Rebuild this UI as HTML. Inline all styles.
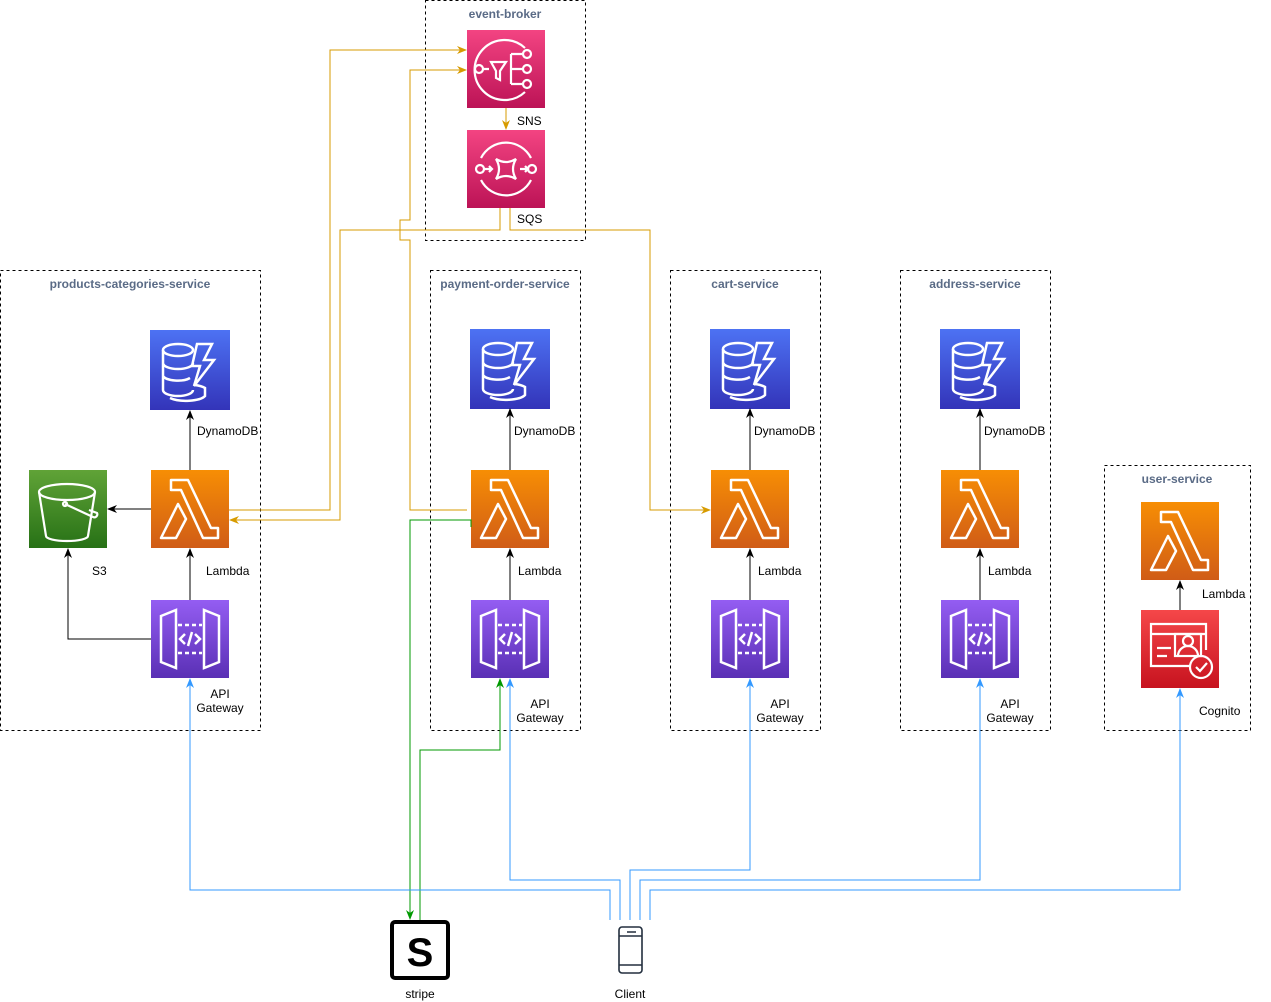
<!DOCTYPE html>
<html><head><meta charset="utf-8"><style>
html,body{margin:0;padding:0;background:#fff;}
svg{display:block;font-family:"Liberation Sans",Arial,sans-serif;}
.t{font-size:12px;fill:#000;}
.h{font-size:12px;font-weight:bold;fill:#5a6b86;}
</style></head><body>
<svg width="1271" height="1002" viewBox="0 0 1271 1002" xmlns="http://www.w3.org/2000/svg">
<defs>
<linearGradient id="gd" x1="0" y1="0" x2="0" y2="1"><stop offset="0" stop-color="#4d72f3"/><stop offset="1" stop-color="#3334b9"/></linearGradient>
<linearGradient id="gl" x1="0" y1="0" x2="0" y2="1"><stop offset="0" stop-color="#f78e04"/><stop offset="1" stop-color="#d05c17"/></linearGradient>
<linearGradient id="ga" x1="0" y1="0" x2="0" y2="1"><stop offset="0" stop-color="#945df2"/><stop offset="1" stop-color="#5a30b5"/></linearGradient>
<linearGradient id="gs" x1="0" y1="0" x2="0" y2="1"><stop offset="0" stop-color="#60a337"/><stop offset="1" stop-color="#277116"/></linearGradient>
<linearGradient id="gp" x1="0" y1="0" x2="0" y2="1"><stop offset="0" stop-color="#f34482"/><stop offset="1" stop-color="#bc1356"/></linearGradient>
<linearGradient id="gc" x1="0" y1="0" x2="0" y2="1"><stop offset="0" stop-color="#f54749"/><stop offset="1" stop-color="#c7131f"/></linearGradient>
<g id="lam"><rect width="78" height="78" fill="url(#gl)"/>
<path d="M20 10 H37 L60 58 H67 V68 H52 L30 20 H20 Z M10 68 L27 34 L35 49 L25 68 Z" fill="none" stroke="#fff" stroke-width="2.5" stroke-linejoin="round"/></g>
<g id="dyn"><rect width="80" height="80" fill="url(#gd)"/>
<g fill="none" stroke="#fff" stroke-width="2.5"><ellipse cx="28" cy="20" rx="15" ry="6"/><path d="M13 20 V60 A15 6 0 0 0 43 60 M13 33 A15 6 0 0 0 43 33 M13 46 A15 6 0 0 0 40 48"/><path d="M47 14 H62 L54 30 H64 L44 56 L50 36 H42 Z"/><path d="M45 55 A20 7 0 0 1 55 58 V66 A20 7 0 0 1 20 68"/></g></g>
<g id="api"><rect width="78" height="78" fill="url(#ga)"/>
<g fill="none" stroke="#fff" stroke-width="2.5"><path d="M10 16 L25 10 V68 L10 62 Z M68 16 L53 10 V68 L68 62 Z"/><path d="M27 25 H51 M27 53 H51" stroke-dasharray="4 3"/><path d="M34 34 L29 39 L34 44 M44 34 L49 39 L44 44 M41 32 L37 46"/></g></g>
<g id="sns"><rect width="78" height="78" fill="url(#gp)"/>
<g fill="none" stroke="#fff" stroke-width="2.2"><path d="M58 18 A30 30 0 1 0 58 62"/><circle cx="12" cy="39" r="4"/><path d="M16 39 H22 M44 39 H56"/><path d="M24 32 H39 L33 41 V50 L29 48 V41 Z"/><path d="M44 24 V54 M44 24 H56 M44 54 H56"/><circle cx="60" cy="24" r="4"/><circle cx="60" cy="39" r="4"/><circle cx="60" cy="54" r="4"/></g></g>
<g id="sqs"><rect width="78" height="78" fill="url(#gp)"/>
<g fill="none" stroke="#fff" stroke-width="2.2"><path d="M14 28 A28 28 0 0 1 64 28 M14 50 A28 28 0 0 0 64 50"/><circle cx="13" cy="39" r="4"/><circle cx="65" cy="39" r="4"/><path d="M17 39 H25 M22 36 L25 39 L22 42 M53 39 H61 M58 36 L61 39 L58 42"/><path d="M29 29 Q39 35 49 29 Q43 39 49 49 Q39 43 29 49 Q35 39 29 29 Z"/></g></g>
<g id="s3"><rect width="78" height="78" fill="url(#gs)"/>
<g fill="none" stroke="#fff" stroke-width="2.2"><ellipse cx="38" cy="22" rx="28" ry="8"/><path d="M10 22 L17 66 A21 5 0 0 0 59 66 L66 22"/><circle cx="36" cy="34" r="2"/><path d="M36 34 L64 47 A3 3 0 0 0 68 43 L60 40"/></g></g>
<g id="cog"><rect width="78" height="78" fill="url(#gc)"/>
<g fill="none" stroke="#fff" stroke-width="2.2"><path d="M50 56 H10 V14 H65 V40 M10 24 H65"/><path d="M16 38 H30 M16 46 H26"/><rect x="34" y="24" width="26" height="22"/><circle cx="47" cy="31" r="5"/><path d="M37 46 A10 10 0 0 1 57 46"/><circle cx="60" cy="57" r="11"/><path d="M55 57 L59 61 L66 53"/></g></g>
<marker id="ab" viewBox="0 0 10 10" refX="9" refY="5" markerWidth="10" markerHeight="10" orient="auto"><path d="M0 1 L10 5 L0 9 L3 5 Z" fill="#000"/></marker>
<marker id="ao" viewBox="0 0 10 10" refX="9" refY="5" markerWidth="10" markerHeight="10" orient="auto"><path d="M0 1 L10 5 L0 9 L3 5 Z" fill="#d79b00"/></marker>
<marker id="ag" viewBox="0 0 10 10" refX="9" refY="5" markerWidth="10" markerHeight="10" orient="auto"><path d="M0 1 L10 5 L0 9 L3 5 Z" fill="#009900"/></marker>
<marker id="au" viewBox="0 0 10 10" refX="9" refY="5" markerWidth="10" markerHeight="10" orient="auto"><path d="M0 1 L10 5 L0 9 L3 5 Z" fill="#3399ff"/></marker>
</defs>

<g fill="none" stroke="#000" stroke-dasharray="3 3">
<rect x="425.5" y="0.5" width="160" height="240"/>
<rect x="0.5" y="270.5" width="260" height="460"/>
<rect x="430.5" y="270.5" width="150" height="460"/>
<rect x="670.5" y="270.5" width="150" height="460"/>
<rect x="900.5" y="270.5" width="150" height="460"/>
<rect x="1104.5" y="465.5" width="146" height="265"/>
</g>
<g class="h" text-anchor="middle">
<text x="505" y="18">event-broker</text>
<text x="130" y="288">products-categories-service</text>
<text x="505" y="288">payment-order-service</text>
<text x="745" y="288">cart-service</text>
<text x="975" y="288">address-service</text>
<text x="1177" y="483">user-service</text>
</g>

<use href="#sns" x="467" y="30"/>
<use href="#sqs" x="467" y="130"/>
<use href="#dyn" x="150" y="330"/>
<use href="#lam" x="151" y="470"/>
<use href="#s3" x="29" y="470"/>
<use href="#api" x="151" y="600"/>
<use href="#dyn" x="470" y="329"/>
<use href="#lam" x="471" y="470"/>
<use href="#api" x="471" y="600"/>
<use href="#dyn" x="710" y="329"/>
<use href="#lam" x="711" y="470"/>
<use href="#api" x="711" y="600"/>
<use href="#dyn" x="940" y="329"/>
<use href="#lam" x="941" y="470"/>
<use href="#api" x="941" y="600"/>
<use href="#lam" x="1141" y="502"/>
<use href="#cog" x="1141" y="610"/>

<rect x="392" y="922" width="56" height="56" rx="3" fill="#fff" stroke="#000" stroke-width="4"/>
<text x="420" y="966" text-anchor="middle" font-size="40" font-weight="bold" fill="#000">S</text>
<rect x="619" y="927" width="23" height="46" rx="3" fill="none" stroke="#232f3e" stroke-width="1.6"/>
<path d="M619 936 H642 M619 965 H642 M627 932 H636" stroke="#232f3e" stroke-width="1.4"/>

<g fill="none" stroke="#000" stroke-width="1">
<path d="M190 470 V411" marker-end="url(#ab)"/>
<path d="M190 600 V549" marker-end="url(#ab)"/>
<path d="M151 509 H108" marker-end="url(#ab)"/>
<path d="M151 639 H68 V549" marker-end="url(#ab)"/>
<path d="M510 470 V409" marker-end="url(#ab)"/>
<path d="M510 600 V549" marker-end="url(#ab)"/>
<path d="M750 470 V409" marker-end="url(#ab)"/>
<path d="M750 600 V549" marker-end="url(#ab)"/>
<path d="M980 470 V409" marker-end="url(#ab)"/>
<path d="M980 600 V549" marker-end="url(#ab)"/>
<path d="M1180 610 V581" marker-end="url(#ab)"/>
</g>

<g fill="none" stroke="#d79b00" stroke-width="1">
<path d="M506 108 V129" marker-end="url(#ao)"/>
<path d="M229 510 H330 V50 H466" marker-end="url(#ao)"/>
<path d="M500 208 V230 H340 V520 H230" marker-end="url(#ao)"/>
<path d="M510 208 V230 H650 V510 H710" marker-end="url(#ao)"/>
<path d="M467 510 H410 V240 H400 V220 H410 V70 H466" marker-end="url(#ao)"/>
</g>

<g fill="none" stroke="#009900" stroke-width="1">
<path d="M471 527 V520 H410 V919" marker-end="url(#ag)"/>
<path d="M420 920 V750 H500 V679" marker-end="url(#ag)"/>
</g>

<g fill="none" stroke="#3399ff" stroke-width="1">
<path d="M610 920 V890 H190 V679" marker-end="url(#au)"/>
<path d="M620 920 V880 H510 V679" marker-end="url(#au)"/>
<path d="M630 920 V870 H750 V679" marker-end="url(#au)"/>
<path d="M640 920 V880 H980 V679" marker-end="url(#au)"/>
<path d="M650 920 V890 H1180 V689" marker-end="url(#au)"/>
</g>

<g class="t">
<text x="517" y="125">SNS</text>
<text x="517" y="223">SQS</text>
<text x="197" y="435">DynamoDB</text>
<text x="206" y="575">Lambda</text>
<text x="92" y="575">S3</text>
<text x="220" y="698" text-anchor="middle">API</text>
<text x="220" y="712" text-anchor="middle">Gateway</text>
<text x="514" y="435">DynamoDB</text>
<text x="518" y="575">Lambda</text>
<text x="540" y="708" text-anchor="middle">API</text>
<text x="540" y="722" text-anchor="middle">Gateway</text>
<text x="754" y="435">DynamoDB</text>
<text x="758" y="575">Lambda</text>
<text x="780" y="708" text-anchor="middle">API</text>
<text x="780" y="722" text-anchor="middle">Gateway</text>
<text x="984" y="435">DynamoDB</text>
<text x="988" y="575">Lambda</text>
<text x="1010" y="708" text-anchor="middle">API</text>
<text x="1010" y="722" text-anchor="middle">Gateway</text>
<text x="1202" y="598">Lambda</text>
<text x="1199" y="715">Cognito</text>
<text x="420" y="998" text-anchor="middle">stripe</text>
<text x="630" y="998" text-anchor="middle">Client</text>
</g>
</svg>
</body></html>
